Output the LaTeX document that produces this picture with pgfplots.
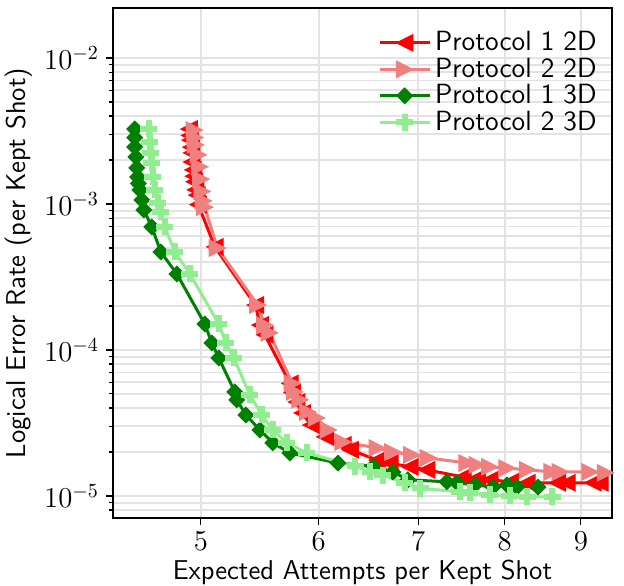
\documentclass[border=0pt]{standalone}
\usepackage{pgfplots}
\pgfplotsset{compat=1.18}
\definecolor{p1red}{HTML}{FF0000}
\definecolor{p2coral}{HTML}{F08080}
\definecolor{p1green}{HTML}{008000}
\definecolor{p2green}{HTML}{90EE90}
\definecolor{gridgray}{HTML}{E3E3E3}

% matplotlib-like markers
\pgfdeclareplotmark{tril}{%
  \pgfpathmoveto{\pgfqpoint{-\pgfplotmarksize}{0pt}}%
  \pgfpathlineto{\pgfqpoint{\pgfplotmarksize}{\pgfplotmarksize}}%
  \pgfpathlineto{\pgfqpoint{\pgfplotmarksize}{-\pgfplotmarksize}}%
  \pgfpathclose\pgfusepathqfillstroke}
\pgfdeclareplotmark{trir}{%
  \pgfpathmoveto{\pgfqpoint{\pgfplotmarksize}{0pt}}%
  \pgfpathlineto{\pgfqpoint{-\pgfplotmarksize}{\pgfplotmarksize}}%
  \pgfpathlineto{\pgfqpoint{-\pgfplotmarksize}{-\pgfplotmarksize}}%
  \pgfpathclose\pgfusepathqfillstroke}
\pgfdeclareplotmark{dia}{%
  \pgfpathmoveto{\pgfqpoint{0pt}{\pgfplotmarksize}}%
  \pgfpathlineto{\pgfqpoint{\pgfplotmarksize}{0pt}}%
  \pgfpathlineto{\pgfqpoint{0pt}{-\pgfplotmarksize}}%
  \pgfpathlineto{\pgfqpoint{-\pgfplotmarksize}{0pt}}%
  \pgfpathclose\pgfusepathqfillstroke}
\pgfdeclareplotmark{plusf}{%
  \pgfpathmoveto{\pgfqpoint{-0.33\pgfplotmarksize}{\pgfplotmarksize}}%
  \pgfpathlineto{\pgfqpoint{0.33\pgfplotmarksize}{\pgfplotmarksize}}%
  \pgfpathlineto{\pgfqpoint{0.33\pgfplotmarksize}{0.33\pgfplotmarksize}}%
  \pgfpathlineto{\pgfqpoint{\pgfplotmarksize}{0.33\pgfplotmarksize}}%
  \pgfpathlineto{\pgfqpoint{\pgfplotmarksize}{-0.33\pgfplotmarksize}}%
  \pgfpathlineto{\pgfqpoint{0.33\pgfplotmarksize}{-0.33\pgfplotmarksize}}%
  \pgfpathlineto{\pgfqpoint{0.33\pgfplotmarksize}{-\pgfplotmarksize}}%
  \pgfpathlineto{\pgfqpoint{-0.33\pgfplotmarksize}{-\pgfplotmarksize}}%
  \pgfpathlineto{\pgfqpoint{-0.33\pgfplotmarksize}{-0.33\pgfplotmarksize}}%
  \pgfpathlineto{\pgfqpoint{-\pgfplotmarksize}{-0.33\pgfplotmarksize}}%
  \pgfpathlineto{\pgfqpoint{-\pgfplotmarksize}{0.33\pgfplotmarksize}}%
  \pgfpathlineto{\pgfqpoint{-0.33\pgfplotmarksize}{0.33\pgfplotmarksize}}%
  \pgfpathclose\pgfusepathqfillstroke}

\begin{document}
\begin{tikzpicture}
\begin{axis}[
  scale only axis, width=249.5pt, height=255pt,
  xmode=log, ymode=log,
  xmin=4.365, xmax=9.445, ymin=7.06e-6, ymax=0.022,
  xtick={5,6,7,8,9}, xticklabels={$5$,$6$,$7$,$8$,$9$}, minor xtick={},
  xtick pos=bottom, ytick pos=left, tick align=outside,
  major tick length=3.5pt, minor tick length=2pt,
  every tick/.style={black, line width=0.6pt},
  axis line style={line width=0.9pt},
  grid=both,
  major grid style={gridgray, line width=0.9pt},
  minor grid style={gridgray, line width=0.9pt},
  tick label style={font=\fontsize{13.8}{16}\selectfont},
  label style={font=\fontsize{13.6}{16}\selectfont\sffamily},
  xlabel={Expected Attempts per Kept Shot},
  ylabel={Logical Error Rate (per Kept Shot)},
  xlabel style={yshift=2pt},
  ylabel style={yshift=-1pt},
  legend cell align=left,
  legend style={draw=none, fill=none, at={(rel axis cs:0.99,0.97)}, anchor=north east,
    font=\fontsize{13.9}{16}\selectfont\sffamily, row sep=-1.9pt},
  legend image code/.code={\draw[mark repeat=2,mark phase=2,#1] plot coordinates {(0pt,0pt)(12.5pt,0pt)(25pt,0pt)};},
]
\addplot[p1red, line width=1.5pt, mark=tril, mark size=4.1pt, mark options={fill=p1red, draw=p1red, line width=0.5pt}] coordinates {
(4.91,3.26e-3)(4.915,2.95e-3)(4.92,2.74e-3)(4.925,2.45e-3)(4.93,2.24e-3)(4.93,1.94e-3)
(4.94,1.71e-3)(4.945,1.55e-3)(4.95,1.42e-3)(4.96,1.25e-3)(4.97,1.15e-3)(4.98,9.9e-4)
(5.11,5.08e-4)(5.44,2.03e-4)(5.48,1.48e-4)(5.52,1.27e-4)
(5.74,5.9e-5)(5.76,5.1e-5)(5.80,4.4e-5)(5.85,3.7e-5)(5.93,3.06e-5)(6.06,2.54e-5)
(6.23,2.24e-5)(6.30,2.07e-5)(6.57,1.76e-5)(6.70,1.68e-5)(6.91,1.58e-5)(7.09,1.51e-5)
(7.50,1.35e-5)(7.67,1.33e-5)(7.82,1.29e-5)(8.07,1.25e-5)(8.28,1.23e-5)(8.68,1.23e-5)
(8.81,1.23e-5)(9.17,1.23e-5)(9.27,1.23e-5)};
\addlegendentry{Protocol 1 2D}
\addplot[p2coral, line width=1.5pt, mark=trir, mark size=4.1pt, mark options={fill=p2coral, draw=p2coral, line width=0.5pt}] coordinates {
(4.95,3.21e-3)(4.955,2.85e-3)(4.96,2.54e-3)(4.98,2.17e-3)(4.99,1.80e-3)(5.00,1.48e-3)
(5.01,1.22e-3)(5.02,1.05e-3)(5.03,9.5e-4)(5.13,4.99e-4)(5.46,2.03e-4)(5.52,1.48e-4)
(5.56,1.31e-4)(5.76,5.9e-5)(5.78,5.16e-5)(5.83,4.55e-5)(5.90,3.76e-5)(5.98,3.42e-5)
(6.09,2.83e-5)(6.23,2.34e-5)(6.57,2.13e-5)(6.73,2.00e-5)(6.93,1.91e-5)(7.11,1.82e-5)
(7.55,1.68e-5)(7.67,1.63e-5)(7.82,1.58e-5)(8.03,1.55e-5)(8.29,1.51e-5)(8.61,1.46e-5)
(8.72,1.46e-5)(9.13,1.46e-5)(9.35,1.44e-5)};
\addlegendentry{Protocol 2 2D}
\addplot[p1green, line width=1.5pt, mark=dia, mark size=3.9pt, mark options={fill=p1green, draw=p1green, line width=0.5pt}] coordinates {
(4.514,3.264e-3)(4.514,2.85e-3)(4.514,2.457e-3)(4.522,2.099e-3)(4.528,1.765e-3)(4.535,1.531e-3)
(4.54,1.38e-3)(4.550,1.247e-3)(4.564,1.065e-3)(4.578,9.10e-4)(4.635,6.96e-4)(4.700,4.69e-4)
(4.818,3.316e-4)(5.031,1.507e-4)(5.086,1.116e-4)(5.141,8.81e-5)(5.270,5.16e-5)(5.286,4.55e-5)
(5.361,3.59e-5)(5.478,2.83e-5)(5.589,2.31e-5)(5.739,1.97e-5)(6.182,1.68e-5)(6.53,1.6e-5)
(6.730,1.46e-5)(6.889,1.29e-5)(7.317,1.25e-5)(7.431,1.23e-5)(7.641,1.19e-5)(7.857,1.15e-5)
(8.029,1.19e-5)(8.154,1.15e-5)(8.424,1.15e-5)};
\addlegendentry{Protocol 1 3D}
\addplot[p2green, line width=1.5pt, mark=plusf, mark size=4.0pt, mark options={fill=p2green, draw=p2green, line width=0.5pt}] coordinates {
(4.614,3.264e-3)(4.621,2.659e-3)(4.628,2.236e-3)(4.635,1.910e-3)(4.642,1.531e-3)(4.657,1.247e-3)
(4.678,1.016e-3)(4.700,8.81e-4)(4.729,6.96e-4)(4.803,4.69e-4)(4.916,3.316e-4)(5.141,1.507e-4)
(5.197,1.116e-4)(5.262,8.81e-5)(5.394,4.92e-5)(5.495,3.59e-5)(5.589,2.83e-5)(5.712,2.31e-5)
(5.892,1.97e-5)(6.347,1.6e-5)(6.496,1.46e-5)(6.627,1.39e-5)(6.857,1.23e-5)(7.018,1.13e-5)
(7.466,1.065e-5)(7.582,1.048e-5)(7.820,1.016e-5)(8.066,1.0e-5)(8.282,9.84e-6)(8.609,9.84e-6)};
\addlegendentry{Protocol 2 3D}
\end{axis}
\pgfresetboundingbox
\path[use as bounding box] ([xshift=-56.5pt,yshift=-34pt]current axis.south west) rectangle ([xshift=6pt,yshift=4pt]current axis.north east);
\end{tikzpicture}
\end{document}
